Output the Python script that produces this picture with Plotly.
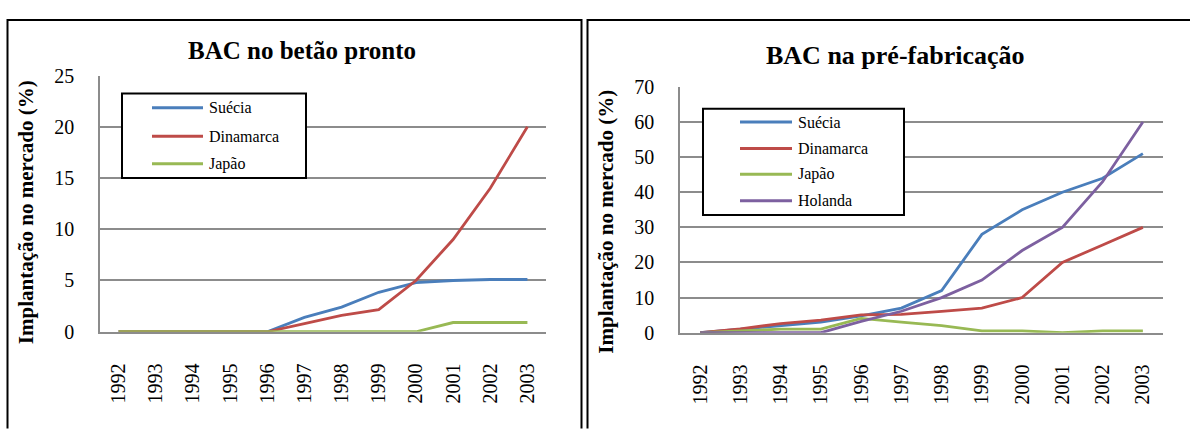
import plotly.graph_objects as go

# ---- data -------------------------------------------------------------
anos = ["1992", "1993", "1994", "1995", "1996", "1997",
        "1998", "1999", "2000", "2001", "2002", "2003"]

# BAC no betão pronto (% de implantação no mercado)
pronto_suecia = [0, 0, 0, 0, 0, 1.4, 2.4, 3.85, 4.8, 5.0, 5.1, 5.1]
pronto_dinamarca = [0, 0, 0, 0, 0, 0.8, 1.6, 2.15, 5.0, 9.0, 14.0, 20.0]
pronto_japao = [0, 0, 0, 0, 0, 0, 0, 0, 0, 0.9, 0.9, 0.9]

# BAC na pré-fabricação (% de implantação no mercado)
pre_suecia = [0, 1, 2, 3, 4.8, 7, 12, 28, 35, 40, 44, 51]
pre_dinamarca = [0, 1.1, 2.6, 3.6, 5.1, 5.2, 6.1, 7, 10, 20, 25, 30]
pre_japao = [0, 0.5, 1, 1, 4.1, 3, 2, 0.5, 0.5, 0, 0.5, 0.5]
pre_holanda = [0, 0, 0, 0, 3.2, 6.1, 10, 15, 23.4, 30, 43, 60]

nomes = ["Suécia", "Dinamarca", "Japão", "Holanda"]
cores = ["#4A7EBB", "#BE4B48", "#98B954", "#7D60A0"]

titulo_esq = "BAC no betão pronto"
titulo_dir = "BAC na pré-fabricação"
titulo_y = "Implantação no mercado (%)"

# ---- canvas helpers ---------------------------------------------------
W, H = 1190, 431
def px(x):
    return x / W
def py(y):
    return 1 - y / H

SERIF = "Liberation Serif"
GRID = "#8C8C8C"

fig = go.Figure()

painel_esq = [pronto_suecia, pronto_dinamarca, pronto_japao]
painel_dir = [pre_suecia, pre_dinamarca, pre_japao, pre_holanda]

for serie, nome, cor in zip(painel_esq, nomes, cores):
    fig.add_trace(go.Scatter(x=anos, y=serie, name=nome, mode="lines",
                             line=dict(color=cor, width=2.8),
                             xaxis="x", yaxis="y", showlegend=False))
for serie, nome, cor in zip(painel_dir, nomes, cores):
    fig.add_trace(go.Scatter(x=anos, y=serie, name=nome, mode="lines",
                             line=dict(color=cor, width=2.8),
                             xaxis="x2", yaxis="y2", showlegend=False))

eixo_x = dict(type="category", range=[-0.5, 11.5], showgrid=False,
              showline=True, linecolor=GRID, linewidth=1.5,
              tickangle=-90, ticks="", ticklabelstandoff=22,
              tickfont=dict(family=SERIF, size=20, color="black"),
              zeroline=False, fixedrange=True)
eixo_y = dict(showgrid=True, gridcolor=GRID, gridwidth=1.5,
              showline=True, linecolor=GRID, linewidth=1.5,
              ticks="", ticklabelstandoff=20, zeroline=False,
              tickfont=dict(family=SERIF, size=20, color="black"),
              fixedrange=True)

fig.update_layout(
    width=W, height=H,
    margin=dict(l=0, r=0, t=0, b=0),
    paper_bgcolor="white", plot_bgcolor="white",
    showlegend=False,
    font=dict(family=SERIF, color="black"),
    xaxis=dict(eixo_x, domain=[px(100), px(546)], anchor="y"),
    yaxis=dict(eixo_y, domain=[py(338), py(68)], anchor="x",
               range=[0, 25], tickvals=[0, 5, 10, 15, 20, 25]),
    xaxis2=dict(eixo_x, domain=[px(680), px(1163)], anchor="y2"),
    yaxis2=dict(eixo_y, domain=[py(339), py(80)], anchor="x2",
                range=[0, 70], tickvals=[0, 10, 20, 30, 40, 50, 60, 70]),
)

shapes = []
annotations = []

# panel frames
moldura = dict(color="black", width=2)
shapes.append(dict(type="path", xref="paper", yref="paper",
                   path=f"M {px(7.5)} {py(440)} L {px(7.5)} {py(9.5)} "
                        f"L {px(581.5)} {py(9.5)} L {px(581.5)} {py(440)}",
                   line=moldura))
shapes.append(dict(type="path", xref="paper", yref="paper",
                   path=f"M {px(587.5)} {py(440)} L {px(587.5)} {py(9.5)} "
                        f"L {px(1200)} {py(9.5)}",
                   line=moldura))

# chart titles
annotations.append(dict(text=f"<b>{titulo_esq}</b>", xref="paper", yref="paper",
                        x=px(302), y=py(42), xanchor="center", yanchor="middle",
                        showarrow=False,
                        font=dict(family=SERIF, size=25, color="black")))
annotations.append(dict(text=f"<b>{titulo_dir}</b>", xref="paper", yref="paper",
                        x=px(895), y=py(47), xanchor="center", yanchor="middle",
                        showarrow=False,
                        font=dict(family=SERIF, size=26, color="black")))

# y-axis titles
for xc, yc in [(26, 212), (606, 222)]:
    annotations.append(dict(text=f"<b>{titulo_y}</b>", xref="paper", yref="paper",
                            x=px(xc), y=py(yc), xanchor="center", yanchor="middle",
                            showarrow=False, textangle=-90,
                            font=dict(family=SERIF, size=21, color="black")))

# legend boxes
def legenda(x0, y0, x1, y1, linha_x0, linha_x1, ys, n):
    shapes.append(dict(type="rect", xref="paper", yref="paper",
                       x0=px(x0), x1=px(x1), y0=py(y1), y1=py(y0),
                       line=dict(color="black", width=2), fillcolor="white",
                       layer="above"))
    for i in range(n):
        shapes.append(dict(type="line", xref="paper", yref="paper",
                           x0=px(linha_x0), x1=px(linha_x1),
                           y0=py(ys[i]), y1=py(ys[i]),
                           line=dict(color=cores[i], width=3), layer="above"))
        annotations.append(dict(text=nomes[i], xref="paper", yref="paper",
                                x=px(linha_x1 + 4), y=py(ys[i]),
                                xanchor="left", yanchor="middle", showarrow=False,
                                font=dict(family=SERIF, size=16, color="black")))

legenda(122, 87, 306, 176, 152, 203, [102, 132, 161], 3)
legenda(703, 103, 904, 215, 740, 792, [117, 145, 172, 200], 4)

fig.update_layout(shapes=shapes, annotations=annotations)

fig.write_html("out.html")
